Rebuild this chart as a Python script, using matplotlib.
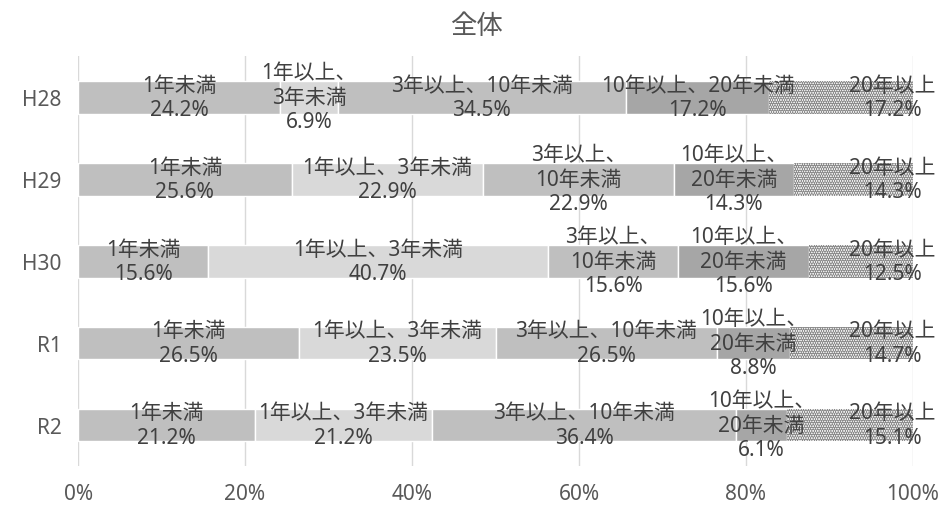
import matplotlib.pyplot as plt

plt.rcParams['font.family'] = ['Noto Sans', 'Noto Sans CJK JP', 'DejaVu Sans']
plt.rcParams['hatch.linewidth'] = 1.8

# survey years, top to bottom
years = ['H28', 'H29', 'H30', 'R1', 'R2']

# share of each tenure band (%) per year
under_1 = [24.2, 25.6, 15.6, 26.5, 21.2]
from_1_to_3 = [6.9, 22.9, 40.7, 23.5, 21.2]
from_3_to_10 = [34.5, 22.9, 15.6, 26.5, 36.4]
from_10_to_20 = [17.2, 14.3, 15.6, 8.8, 6.1]
over_20 = [17.2, 14.3, 12.5, 14.7, 15.1]

# label text for each band; some rows wrap differently
band_names = ['1年未満', '1年以上、3年未満', '3年以上、10年未満', '10年以上、20年未満', '20年以上']
wrapped_names = {
    ('H28', 1): '1年以上、\n3年未満',
    ('H29', 2): '3年以上、\n10年未満',
    ('H29', 3): '10年以上、\n20年未満',
    ('H30', 2): '3年以上、\n10年未満',
    ('H30', 3): '10年以上、\n20年未満',
    ('R1', 3): '10年以上、\n20年未満',
    ('R2', 3): '10年以上、\n20年未満',
}

bands = [under_1, from_1_to_3, from_3_to_10, from_10_to_20, over_20]
face_colors = ['#bfbfbf', '#d9d9d9', '#bfbfbf', '#a6a6a6', 'white']
text_color = '#404040'

fig = plt.figure(figsize=(9.52, 5.06), dpi=100)
ax = fig.add_axes([0.082, 0.077, 0.877, 0.81])

ypos = list(range(len(years)))
left = [0.0] * len(years)
for b, values in enumerate(bands):
    if b == len(bands) - 1:
        ax.barh(ypos, values, left=left, height=0.4, color='white',
                edgecolor='#8c8c8c', hatch='.......', linewidth=0, zorder=2)
    else:
        ax.barh(ypos, values, left=left, height=0.4, color=face_colors[b],
                edgecolor='white', linewidth=1, zorder=2)
    for i, v in enumerate(values):
        name = wrapped_names.get((years[i], b), band_names[b])
        label = f'{name}\n{v:.1f}%'
        if b == len(bands) - 1:
            ax.annotate(label, xy=(100, i), xytext=(-15, 0), textcoords='offset points',
                        ha='center', va='center', fontsize=15, color=text_color,
                        linespacing=1.2, zorder=3)
        else:
            ax.text(left[i] + v / 2, i, label, ha='center', va='center',
                    fontsize=15, color=text_color, linespacing=1.2, zorder=3)
    left = [l + v for l, v in zip(left, values)]

ax.set_xlim(0, 100)
ax.set_ylim(len(years) - 0.5, -0.5)
ax.set_yticks(ypos)
ax.set_yticklabels(years)
ax.set_xticks([0, 20, 40, 60, 80, 100])
ax.set_xticklabels(['0%', '20%', '40%', '60%', '80%', '100%'])
ax.tick_params(axis='both', length=0, labelsize=15, labelcolor='#595959')
ax.tick_params(axis='x', pad=12)
ax.tick_params(axis='y', pad=12)
ax.grid(axis='x', color='#d9d9d9', linewidth=1, zorder=0)
ax.set_axisbelow(True)
for spine in ax.spines.values():
    spine.set_visible(False)

fig.suptitle('全体', y=0.975, fontsize=19, color='#595959')

fig.savefig('out.png', dpi=100)
